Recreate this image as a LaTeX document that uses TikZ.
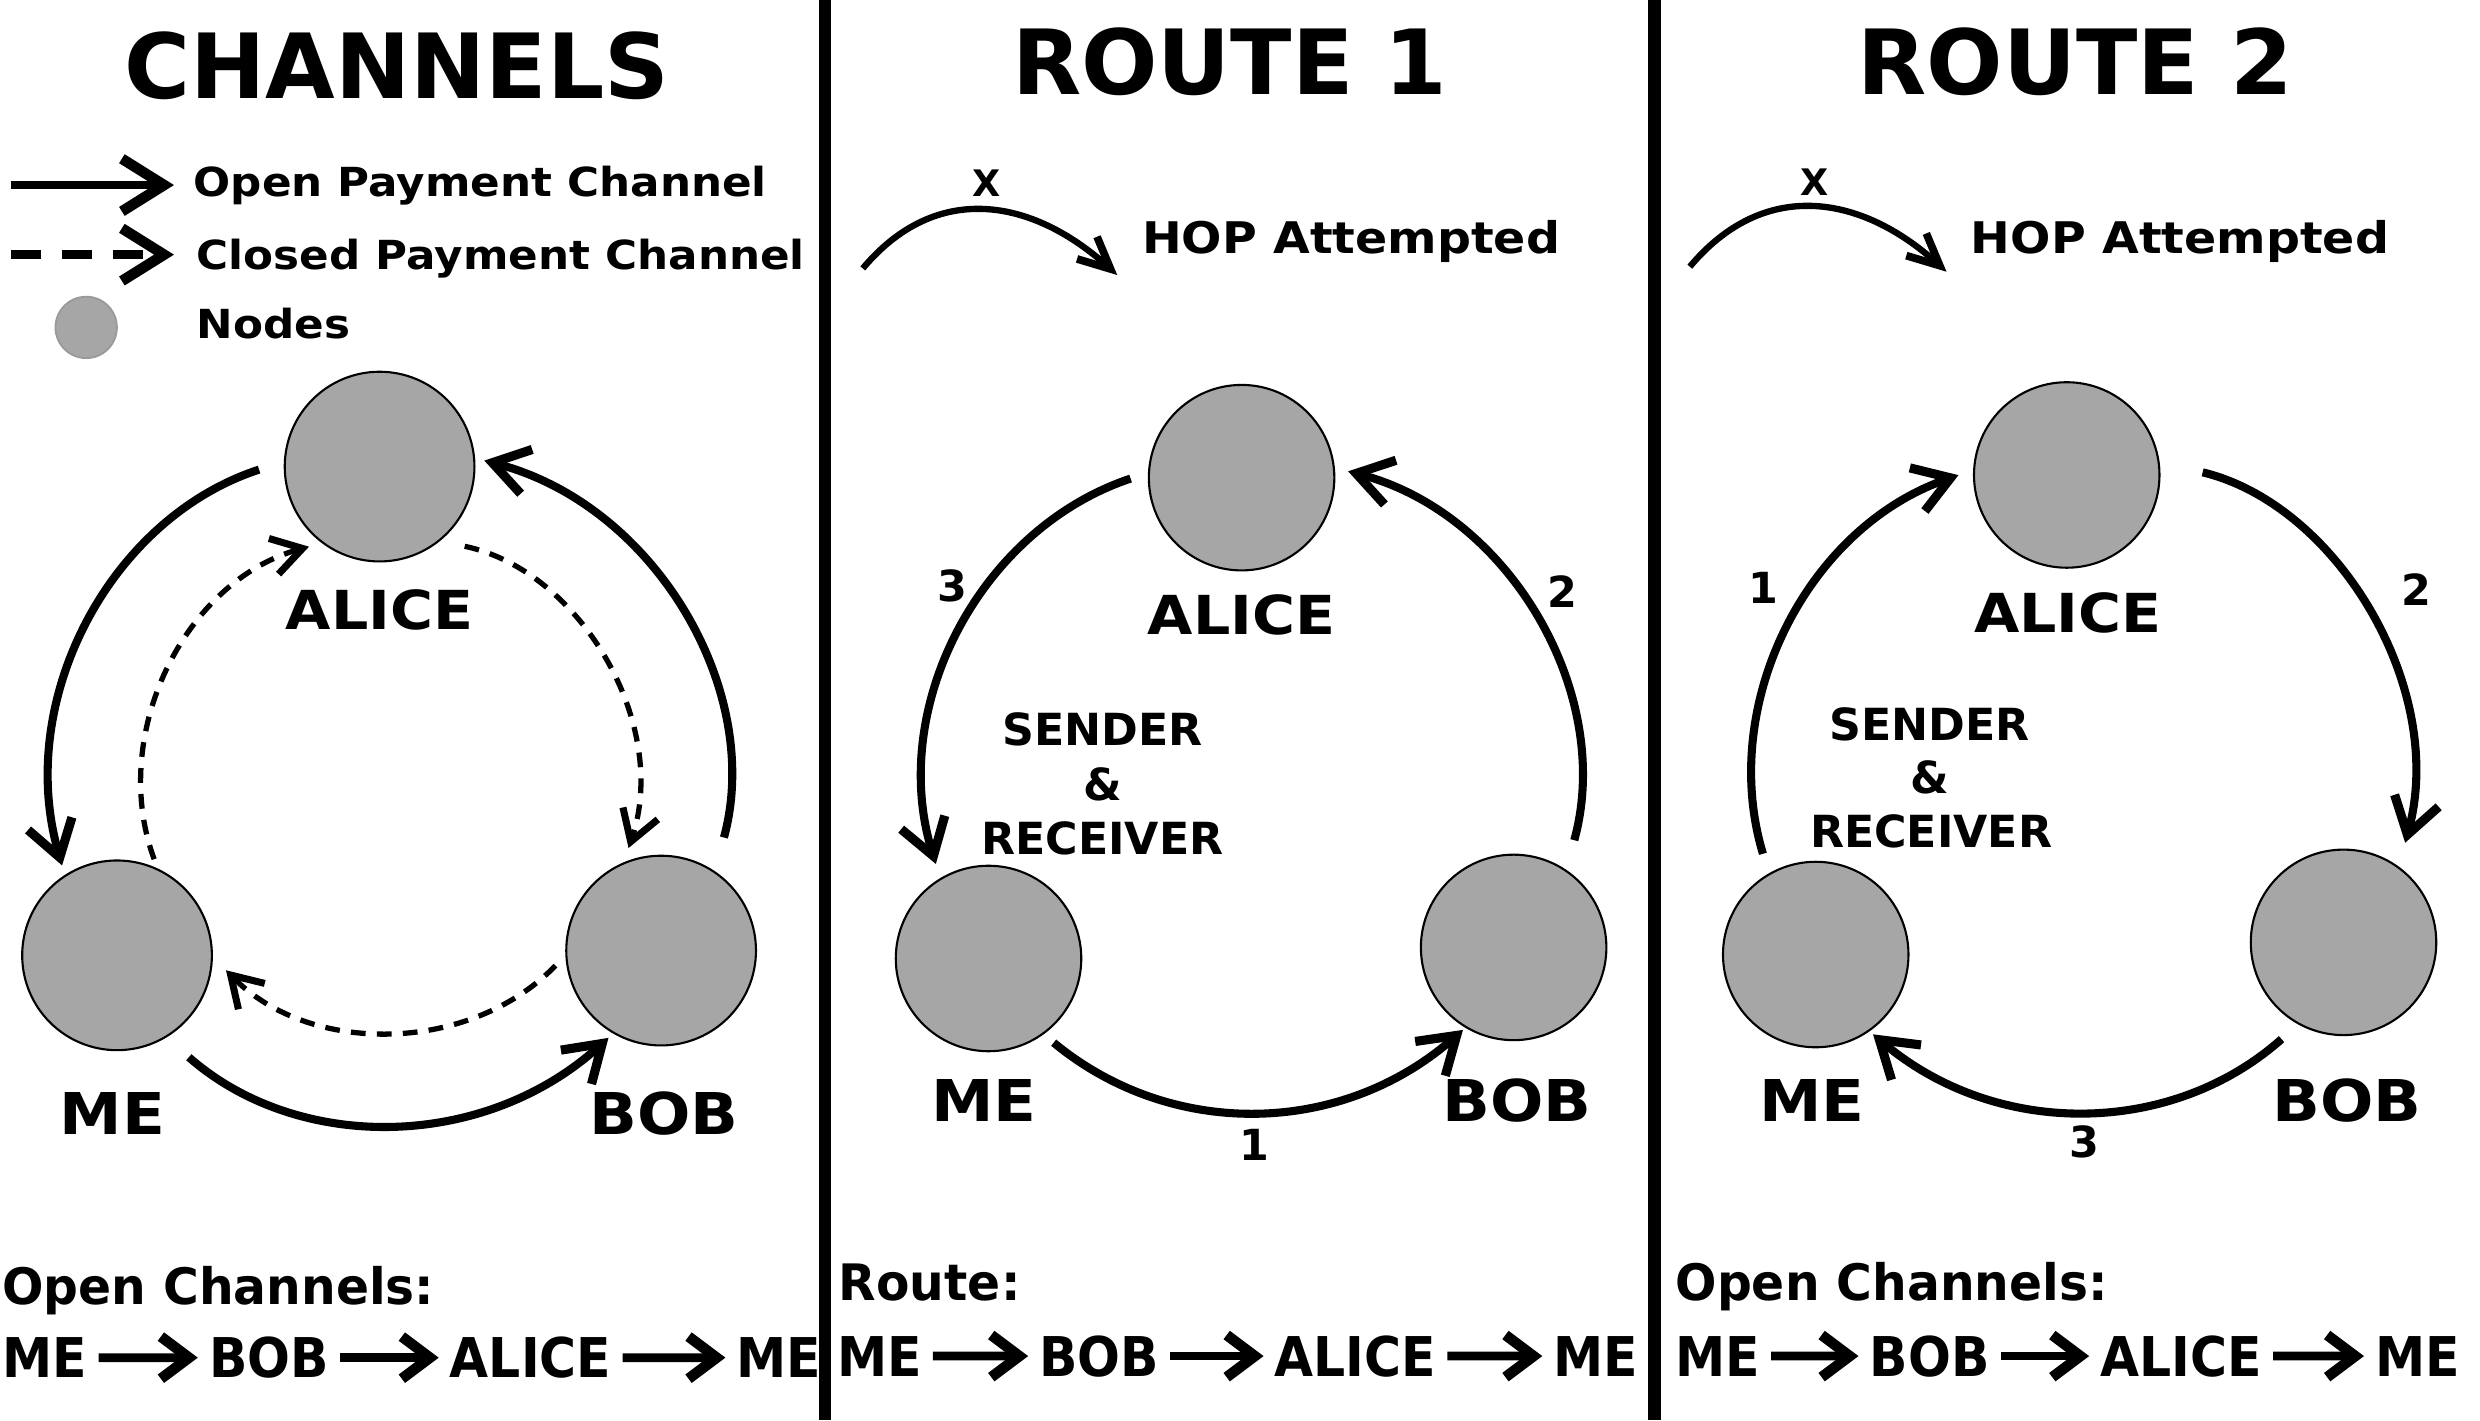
\documentclass[tikz,border=0pt]{standalone}
\usepackage{fontspec}
\setmainfont{DejaVu Sans}
\newfontfamily\fwide{DejaVu Sans}[FakeStretch=1.09]
\newfontfamily\fcond{DejaVu Sans}[FakeStretch=0.97]
\newfontfamily\fchain{DejaVu Sans}[FakeStretch=0.92]
\usetikzlibrary{arrows.meta}
\definecolor{nodegray}{RGB}{166,166,166}
\begin{document}
\begin{tikzpicture}[x=0.015816cm, y=0.015816cm,
  pbig/.style={circle, draw=black, line width=0.6pt, fill=nodegray, inner sep=0pt, minimum size=54pt},
  psmall/.style={circle, draw=black, line width=0.6pt, fill=nodegray, inner sep=0pt, minimum size=52.8pt},
  openarc/.style={line width=2.3pt, -{Straight Barb[length=10pt,width=13pt,line width=2.6pt]}},
  closedarc/.style={line width=1.5pt, dash pattern=on 4.2pt off 3.2pt, -{Straight Barb[length=8.5pt,width=10.5pt,line width=2pt]}},
  legarrow/.style={line width=2.4pt, -{Straight Barb[length=12pt,width=15pt,line width=3pt]}},
  chainarrow/.style={line width=2.5pt, -{Straight Barb[length=8pt,width=12pt,line width=3pt]}, shorten <=3pt, shorten >=3pt},
  hoparrow/.style={line width=1.8pt, -{Straight Barb[length=9pt,width=8.5pt,line width=2.2pt]}},
  title/.style={inner sep=0pt, anchor=base, font=\fontsize{25.6}{30}\selectfont\bfseries},
  lbla/.style={inner sep=0pt, anchor=base, font=\fontsize{15.3}{17}\fwide\bfseries},
  lbl/.style={inner sep=0pt, anchor=base, font=\fontsize{16.4}{18}\fwide\bfseries},
  sr/.style={inner sep=0pt, anchor=base, font=\fontsize{12.6}{15}\selectfont\bfseries},
  num/.style={inner sep=0pt, anchor=base, font=\fontsize{12.2}{14}\selectfont\bfseries},
  legtext/.style={inner sep=0pt, anchor=base west, font=\fontsize{11.4}{14}\fwide\bfseries},
  hoptext/.style={inner sep=0pt, anchor=base west, font=\fontsize{12.4}{15}\fwide\bfseries},
  xtext/.style={inner sep=0pt, anchor=base, font=\fontsize{10.4}{12}\selectfont\bfseries},
  bottext/.style={inner sep=0pt, anchor=base west, font=\fontsize{14.3}{17}\fcond\bfseries},
  chaintext/.style={inner sep=0pt, anchor=base, font=\fontsize{15.6}{18}\fchain\bfseries}
]
\useasboundingbox (0,0) rectangle (1568,-898);
\fill[white] (0,0) rectangle (1568,-898);

% dividers
\fill[black] (517.5,0) rectangle (525.5,-898);
\fill[black] (1042,0) rectangle (1050,-898);

% ---------------- Panel 1: CHANNELS ----------------
\node[title] (t1) at (251,-62.2) {CHANNELS};

\coordinate (l1s) at (7,-117);
\coordinate (l1e) at (110,-117);
\draw[legarrow] (l1s) -- (l1e);
\node[legtext] (lt1) at (122,-124.4) {Open Payment Channel};
\coordinate (l2s) at (7,-161);
\coordinate (l2e) at (110,-161);
\draw[legarrow, dash pattern=on 8.5pt off 6pt] (l2s) -- (l2e);
\node[legtext] (lt2) at (124,-170.7) {Closed Payment Channel};
\node[circle, draw=black!40, line width=0.5pt, fill=nodegray, inner sep=0pt, minimum size=17.5pt] (legnode) at (54.5,-207) {};
\node[legtext] (lt3) at (124,-214) {Nodes};

\node[pbig] (a1) at (240,-295) {};
\node[pbig] (m1) at (74,-604) {};
\node[pbig] (b1) at (418,-601) {};
\node[lbla] (la1) at (240,-398) {ALICE};
\node[lbl] (lm1) at (71,-717) {ME};
\node[lbl] (lb1) at (420,-717) {BOB};

\draw[openarc, shorten <=7.4pt, shorten >=2.8pt] (a1.177.5) to[out=198, in=106.1] (m1.123.2);
\draw[openarc, shorten <=9.9pt, shorten >=2.7pt] (b1.56.1) to[out=74.7, in=345.4] (a1.5.8);
\draw[openarc, shorten <=8.5pt, shorten >=1.8pt] (m1.301.6) to[out=318.7, in=222.1] (b1.240.7);

\draw[closedarc, shorten <=2.8pt, shorten >=3.8pt] (m1.65.6) to[out=110.3, in=195.2] (a1.233.9);
\draw[closedarc, shorten <=7.2pt, shorten >=4.3pt] (a1.309.4) to[out=348.2, in=71.1] (b1.113.1);
\draw[closedarc, shorten <=4pt, shorten >=5.3pt] (b1.183.2) to[out=225.7, in=314.5] (m1.359);

\node[bottext] (bt1) at (1,-825) {Open Channels:};
\node[chaintext] (c1a) at (28.5,-871) {ME};
\node[chaintext] (c1b) at (170,-871) {BOB};
\node[chaintext] (c1c) at (335.5,-871) {ALICE};
\node[chaintext] (c1d) at (492.5,-871) {ME};
\draw[chainarrow] (c1a) -- (c1b);
\draw[chainarrow] (c1b) -- (c1c);
\draw[chainarrow] (c1c) -- (c1d);

% ---------------- Panel 2: ROUTE 1 ----------------
\node[title] (t2) at (777.5,-60) {ROUTE 1};
\coordinate (h2s) at (545.5,-169.7);
\coordinate (h2e) at (706.4,-173.9);
\draw[hoparrow] (h2s) to[out=50, in=138, looseness=1.15] (h2e);
\node[xtext] (x2) at (623.5,-124.4) {X};
\node[hoptext] (hop2) at (721.6,-160.2) {HOP Attempted};

\node[psmall] (a2) at (785,-302) {};
\node[psmall] (m2) at (625,-606) {};
\node[psmall] (b2) at (957,-599) {};
\node[lbla] (la2) at (785,-401) {ALICE};
\node[lbl] (lm2) at (622,-709) {ME};
\node[lbl] (lb2) at (959,-709) {BOB};
\node[sr] (s2a) at (697,-471.6) {SENDER};
\node[sr] (s2b) at (697,-506) {\&};
\node[sr] (s2c) at (697,-540) {RECEIVER};

\draw[openarc, shorten <=5.2pt, shorten >=4.2pt] (a2.177.7) to[out=198.5, in=107.2] (m2.121.6);
\draw[openarc, shorten <=8.7pt, shorten >=3.9pt] (b2.56.4) to[out=74.5, in=345.3] (a2.6.1);
\draw[openarc, shorten <=3.7pt, shorten >=0.9pt] (m2.306) to[out=320.4, in=221.3] (b2.239.4);
\node[num] (n2c) at (601.9,-380) {3};
\node[num] (n2b) at (987.6,-384) {2};
\node[num] (n2a) at (793.3,-733.6) {1};

\node[bottext] (bt2) at (530,-822) {Route:};
\node[chaintext] (c2a) at (556,-870) {ME};
\node[chaintext] (c2b) at (695,-870) {BOB};
\node[chaintext] (c2c) at (857,-870) {ALICE};
\node[chaintext] (c2d) at (1009,-870) {ME};
\draw[chainarrow] (c2a) -- (c2b);
\draw[chainarrow] (c2b) -- (c2c);
\draw[chainarrow] (c2c) -- (c2d);

% ---------------- Panel 3: ROUTE 2 ----------------
\node[title] (t3) at (1312,-60) {ROUTE 2};
\coordinate (h3s) at (1068.4,-168.6);
\coordinate (h3e) at (1230.7,-171.8);
\draw[hoparrow] (h3s) to[out=50, in=138, looseness=1.15] (h3e);
\node[xtext] (x3) at (1147,-123.3) {X};
\node[hoptext] (hop3) at (1245.7,-160) {HOP Attempted};

\node[psmall] (a3) at (1306.7,-300.3) {};
\node[psmall] (m3) at (1148,-603.5) {};
\node[psmall] (b3) at (1481.7,-595.8) {};
\node[lbla] (la3) at (1307.5,-400) {ALICE};
\node[lbl] (lm3) at (1145.5,-709) {ME};
\node[lbl] (lb3) at (1484,-709) {BOB};
\node[sr] (s3a) at (1220,-468) {SENDER};
\node[sr] (s3b) at (1220,-502) {\&};
\node[sr] (s3c) at (1221,-536) {RECEIVER};

\draw[openarc, shorten <=5.8pt, shorten >=4.4pt] (m3.120.8) to[out=106.8, in=199.2] (a3.177.3);
\draw[openarc, shorten <=12.6pt, shorten >=7pt] (a3.8.3) to[out=346.4, in=74.7] (b3.54.8);
\draw[openarc, shorten <=6.3pt, shorten >=1.3pt] (b3.241.6) to[out=221.7, in=319.8] (m3.305.9);
\node[num] (n3a) at (1114.7,-381.5) {1};
\node[num] (n3b) at (1528,-383) {2};
\node[num] (n3c) at (1318,-732) {3};

\node[bottext] (bt3) at (1059,-822) {Open Channels:};
\node[chaintext] (c3a) at (1086,-870) {ME};
\node[chaintext] (c3b) at (1220,-870) {BOB};
\node[chaintext] (c3c) at (1379,-870) {ALICE};
\node[chaintext] (c3d) at (1528.5,-870) {ME};
\draw[chainarrow] (c3a) -- (c3b);
\draw[chainarrow] (c3b) -- (c3c);
\draw[chainarrow] (c3c) -- (c3d);
\end{tikzpicture}
\end{document}
